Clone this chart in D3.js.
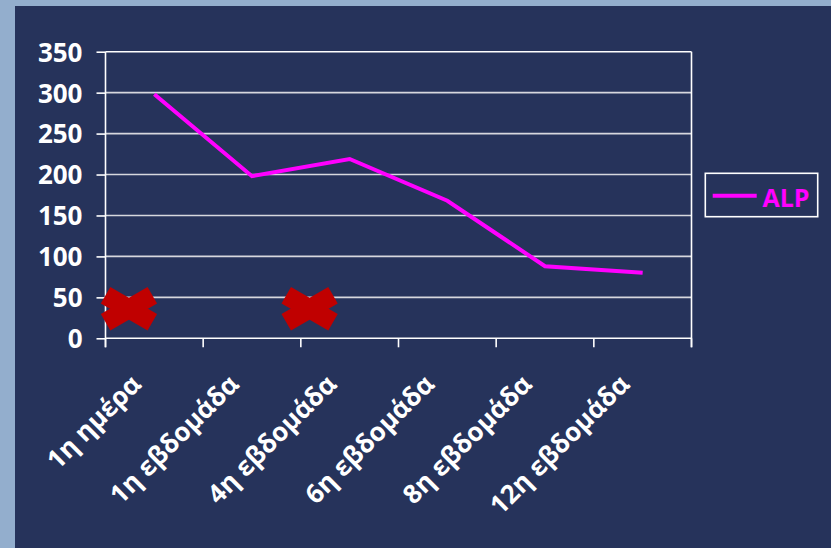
<!DOCTYPE html>
<html>
<head>
<meta charset="utf-8">
<script src="https://cdn.jsdelivr.net/npm/d3@7"></script>
<style>
  html, body { margin: 0; padding: 0; background: #93aecd; }
  svg { display: block; }
</style>
</head>
<body>
<svg id="chart" width="831" height="548"></svg>
<script>
// Categories (time points) and ALP values
const categories = ["1η ημέρα", "1η εβδομάδα", "4η εβδομάδα", "6η εβδομάδα", "8η εβδομάδα", "12η εβδομάδα"];
const alpValues = [298, 198, 219, 168, 88, 80];
const seriesName = "ALP";
const yTicks = [0, 50, 100, 150, 200, 250, 300, 350];
// Crossed-out markers: position on the category index axis and value
const crossIndex = [0.24, 2.09];
const crossValue = [36, 36];

const svg = d3.select("#chart");
const W = 831, H = 548;
const font = "'Open Sans', 'Noto Sans', sans-serif";

// outer backdrop and dark panel
svg.append("rect").attr("width", W).attr("height", H).attr("fill", "#93aecd");
svg.append("rect").attr("x", 15).attr("y", 6).attr("width", W - 15).attr("height", H - 6).attr("fill", "#26335b");

const plot = { left: 105.5, right: 691.5, top: 51.7, bottom: 338.3 };

const x = d3.scaleBand().domain(categories).range([plot.left, plot.right]).paddingInner(0).paddingOuter(0);
const xi = d3.scaleLinear().domain([0, categories.length]).range([plot.left, plot.right]);
const y = d3.scaleLinear().domain([0, 350]).range([plot.bottom, plot.top]);

// horizontal gridlines
svg.append("g").selectAll("line").data(yTicks.filter(d => d > 0)).join("line")
  .attr("x1", plot.left).attr("x2", plot.right)
  .attr("y1", d => y(d)).attr("y2", d => y(d))
  .attr("stroke", d => d === 350 ? "#ffffff" : "#d6d8de").attr("stroke-width", 1.6);

// right border of plot area
svg.append("line")
  .attr("x1", plot.right).attr("x2", plot.right)
  .attr("y1", plot.top).attr("y2", plot.bottom + 9)
  .attr("stroke", "#ffffff").attr("stroke-width", 1.6);

// y axis
const yAxis = svg.append("g").attr("transform", `translate(${plot.left},0)`)
  .call(d3.axisLeft(y).tickValues(yTicks).tickSize(9).tickPadding(14));
yAxis.select(".domain").attr("stroke", "#ffffff").attr("stroke-width", 1.6)
  .attr("d", `M0,${plot.top}V${plot.bottom + 9}`);
yAxis.selectAll(".tick line").attr("stroke", "#ffffff").attr("stroke-width", 1.6);
yAxis.selectAll(".tick text")
  .attr("fill", "#ffffff").attr("font-family", font).attr("font-weight", "bold")
  .attr("font-size", "26px").attr("dy", "0.36em");

// x axis: boundaries between categories carry the tick marks
const xAxis = svg.append("g").attr("transform", `translate(0,${plot.bottom})`);
xAxis.append("line").attr("x1", plot.left).attr("x2", plot.right).attr("y1", 0).attr("y2", 0)
  .attr("stroke", "#ffffff").attr("stroke-width", 1.6);
xAxis.selectAll("line.tick").data(d3.range(categories.length + 1)).join("line")
  .attr("class", "tick")
  .attr("x1", d => xi(d)).attr("x2", d => xi(d)).attr("y1", 0).attr("y2", 9)
  .attr("stroke", "#ffffff").attr("stroke-width", 1.6);
xAxis.selectAll("text").data(categories).join("text")
  .attr("transform", d => `translate(${x(d) + x.bandwidth() / 2 - 18},${41}) rotate(-45)`)
  .attr("text-anchor", "end")
  .attr("dy", "0.35em")
  .attr("fill", "#ffffff").attr("font-family", font).attr("font-weight", "bold")
  .attr("font-size", "26px")
  .text(d => d);

// ALP line
const line = d3.line()
  .x((d, i) => x(categories[i]) + x.bandwidth() / 2)
  .y(d => y(d));
svg.append("path").datum(alpValues)
  .attr("d", line)
  .attr("fill", "none").attr("stroke", "#ff00ff").attr("stroke-width", 4)
  .attr("stroke-linejoin", "miter");

// red crosses
const armLen = 54, armW = 19, armAngle = 30;
const crosses = svg.append("g").selectAll("g").data(crossIndex).join("g")
  .attr("transform", (d, i) => `translate(${xi(d)},${y(crossValue[i])})`);
[armAngle, -armAngle].forEach(a => {
  crosses.append("rect")
    .attr("x", -armLen / 2).attr("y", -armW / 2)
    .attr("width", armLen).attr("height", armW)
    .attr("transform", `rotate(${a})`)
    .attr("fill", "#c00000");
});

// legend
const lg = svg.append("g");
lg.append("rect").attr("x", 705.3).attr("y", 173.3).attr("width", 112.4).attr("height", 43.4)
  .attr("fill", "none").attr("stroke", "#ffffff").attr("stroke-width", 1.6);
lg.append("line").attr("x1", 712.7).attr("x2", 756.7).attr("y1", 195.7).attr("y2", 195.7)
  .attr("stroke", "#ff00ff").attr("stroke-width", 4);
lg.append("text").attr("x", 762.5).attr("y", 206.5)
  .attr("fill", "#ff00ff").attr("font-family", font).attr("font-weight", "bold")
  .attr("font-size", "25px").text(seriesName);
</script>
</body>
</html>
